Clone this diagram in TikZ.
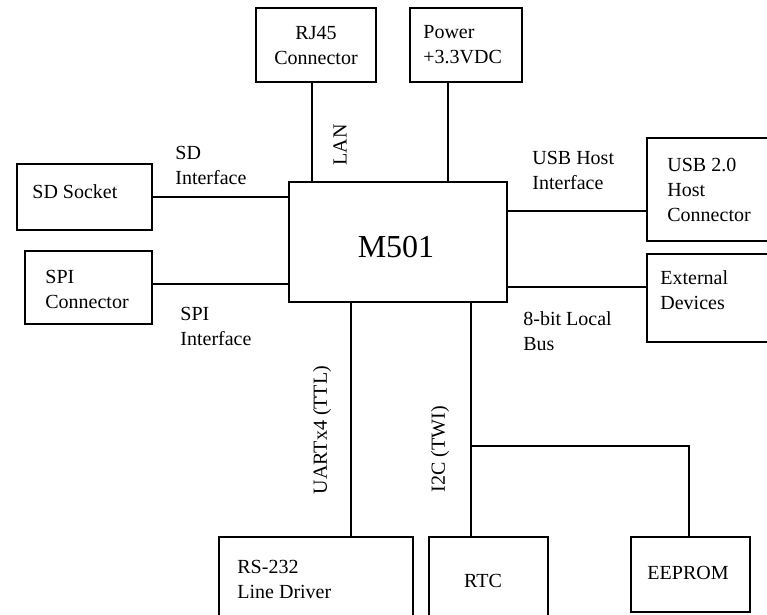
\documentclass[tikz,border=0pt]{standalone}
\usepackage{fontspec}
\setmainfont{Liberation Serif}
\usetikzlibrary{calc}
\begin{document}
\begin{tikzpicture}[x=0.5pt,y=-0.5pt,
  blk/.style={draw,line width=1pt,minimum width=#1,inner sep=0pt},
  lbl/.style={inner sep=0pt,font=\fontsize{10}{12.5}\selectfont,align=left},
  wire/.style={line width=1pt}]
\useasboundingbox (0,0) rectangle (767,615);
\clip (0,0) rectangle (767,615);
% boxes
\node[blk=60pt,minimum height=37pt] (rj45) at (316,45) {};
\node[blk=56pt,minimum height=37pt] (power) at (466,45) {};
\node[blk=67.5pt,minimum height=33pt] (sd) at (84.5,197) {};
\node[blk=63.5pt,minimum height=36.5pt] (spi) at (88.5,287.5) {};
\node[blk=109pt,minimum height=60pt] (m501) at (398,242) {};
\node[blk=71.5pt,minimum height=51.5pt] (usb) at (718.5,189.5) {};
\node[blk=71.5pt,minimum height=44pt] (ext) at (718.5,298) {};
\node[blk=97pt,minimum height=56.5pt] (rs) at (316,593.5) {};
\node[blk=59.5pt,minimum height=56.5pt] (rtc) at (488.5,593.5) {};
\node[blk=59.5pt,minimum height=37.5pt] (eeprom) at (690.5,574.5) {};
% texts
\node[lbl,align=center] (t_rj) at (316,46) {RJ45\\Connector};
\node[lbl,anchor=west] (t_pw) at (423,45) {Power\\+3.3VDC};
\node[lbl,anchor=west] (t_sd) at (32,192) {SD Socket};
\node[lbl,anchor=west] (t_spi) at (45,289) {SPI\\Connector};
\node[lbl,anchor=west] (t_sdi) at (175,165) {SD\\Interface};
\node[lbl,anchor=west] (t_spii) at (180,326) {SPI\\Interface};
\node[lbl,anchor=west] (t_usbi) at (532,170) {USB Host\\Interface};
\node[lbl,anchor=west] (t_usb) at (667,190) {USB 2.0\\Host\\Connector};
\node[lbl,anchor=west] (t_ext) at (660,290) {External\\Devices};
\node[lbl,anchor=west] (t_bus) at (523,331) {8-bit Local\\Bus};
\node[lbl,anchor=west] (t_rs) at (237,579) {RS-232\\Line Driver};
\node[lbl] (t_rtc) at (483,581) {RTC};
\node[lbl] (t_ee) at (688,573) {EEPROM};
\node[inner sep=0pt,font=\fontsize{16}{19}\selectfont] (t_m) at (396,247) {M501};
\node[lbl,rotate=90] (t_lan) at (340,145) {LAN};
\node[lbl,rotate=90] (t_uart) at (322,430) {UARTx4 (TTL)};
\node[lbl,rotate=90] (t_i2c) at (440,449) {I2C (TWI)};
% connector reference coordinates
\coordinate (xlan) at (312,0);
\coordinate (xpw) at (448,0);
\coordinate (xuart) at (351,0);
\coordinate (xi2c) at (471,0);
\coordinate (yusb) at (0,211);
\coordinate (yext) at (0,287);
\coordinate (yspi) at (0,284);
\coordinate (ybr) at (0,446);
\coordinate (xee) at (689,0);
% connectors
\draw[wire] (rj45.south -| xlan) -- (m501.north -| xlan);
\draw[wire] (power.south -| xpw) -- (m501.north -| xpw);
\draw[wire] (sd.east) -- (sd.east -| m501.west);
\draw[wire] (spi.east |- yspi) -- (m501.west |- yspi);
\draw[wire] (m501.east |- yusb) -- (usb.west |- yusb);
\draw[wire] (m501.east |- yext) -- (ext.west |- yext);
\draw[wire] (m501.south -| xuart) -- (rs.north -| xuart);
\draw[wire] (m501.south -| xi2c) -- (rtc.north -| xi2c);
\draw[wire] (xi2c |- ybr) -- (xee |- ybr) -- (eeprom.north -| xee);
\end{tikzpicture}
\end{document}
